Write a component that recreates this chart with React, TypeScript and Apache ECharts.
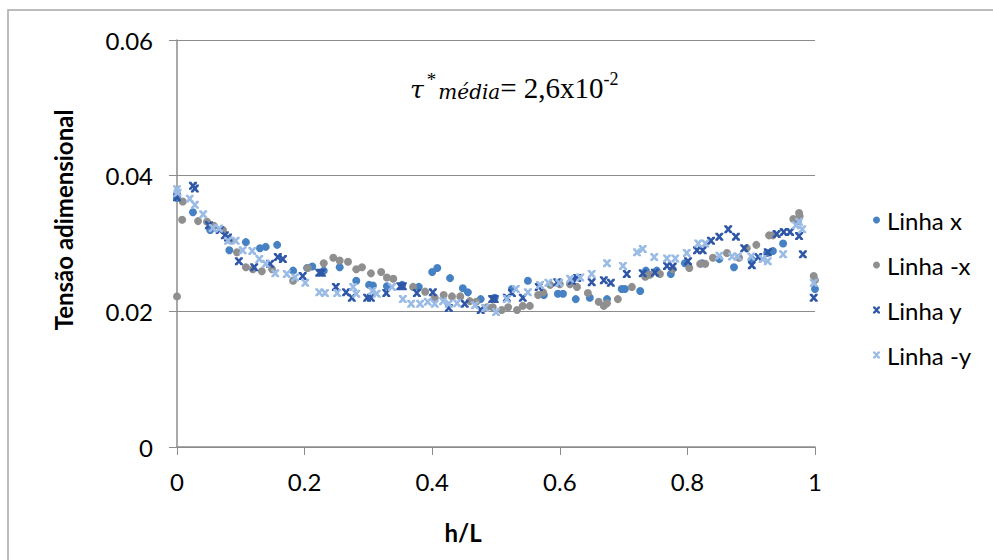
import React, { useEffect, useRef } from "react";
import * as echarts from "echarts";

const xTicks = [0, 0.2, 0.4, 0.6, 0.8, 1];
const yTicks = [0, 0.02, 0.04, 0.06];

const linhaX: [number, number][] = [
  [0.0, 0.0367], [0.025, 0.0346], [0.052, 0.032], [0.082, 0.029], [0.108, 0.0302], [0.13, 0.0293],
  [0.139, 0.0295], [0.157, 0.0298], [0.182, 0.026], [0.204, 0.0264], [0.212, 0.0266], [0.23, 0.026],
  [0.255, 0.0265], [0.281, 0.0245], [0.301, 0.0239], [0.307, 0.0238], [0.329, 0.0237], [0.353, 0.0239],
  [0.379, 0.0236], [0.4, 0.0258], [0.408, 0.0264], [0.428, 0.0249], [0.448, 0.0234], [0.456, 0.0228],
  [0.476, 0.0218], [0.498, 0.022], [0.525, 0.0233], [0.55, 0.0245], [0.575, 0.0224], [0.597, 0.0226],
  [0.605, 0.0226], [0.625, 0.0218], [0.647, 0.022], [0.674, 0.0218], [0.697, 0.0233], [0.702, 0.0233],
  [0.726, 0.023], [0.735, 0.026], [0.752, 0.026], [0.774, 0.0255], [0.796, 0.0271], [0.823, 0.0271],
  [0.85, 0.0277], [0.873, 0.0265], [0.901, 0.0276], [0.925, 0.0286], [0.934, 0.0289], [0.95, 0.03],
  [0.973, 0.0333], [1.0, 0.0233],
];

const linhaMinusX: [number, number][] = [
  [0.0, 0.0222], [0.008, 0.0335], [0.009, 0.0362], [0.033, 0.0333], [0.047, 0.0332], [0.058, 0.0326],
  [0.072, 0.032], [0.083, 0.0305], [0.094, 0.0287], [0.108, 0.0265], [0.119, 0.0262], [0.133, 0.0259],
  [0.149, 0.0262], [0.182, 0.0245], [0.205, 0.0264], [0.23, 0.0271], [0.245, 0.0279], [0.255, 0.0275],
  [0.268, 0.0273], [0.281, 0.0262], [0.29, 0.0265], [0.304, 0.0256], [0.32, 0.0258], [0.329, 0.025],
  [0.339, 0.0248], [0.37, 0.0236], [0.389, 0.0229], [0.404, 0.022], [0.418, 0.0224], [0.431, 0.0222],
  [0.444, 0.0222], [0.459, 0.0215], [0.469, 0.0214], [0.486, 0.0206], [0.495, 0.0206], [0.509, 0.0202],
  [0.519, 0.0206], [0.533, 0.0202], [0.542, 0.0208], [0.553, 0.0208], [0.566, 0.0224], [0.574, 0.0228],
  [0.585, 0.0239], [0.6, 0.024], [0.616, 0.024], [0.627, 0.0236], [0.644, 0.0227], [0.661, 0.0214],
  [0.669, 0.0208], [0.674, 0.0212], [0.691, 0.0218], [0.713, 0.0236], [0.734, 0.0251], [0.741, 0.0254],
  [0.757, 0.0255], [0.777, 0.0262], [0.803, 0.0264], [0.82, 0.027], [0.828, 0.027], [0.84, 0.0279],
  [0.862, 0.0286], [0.881, 0.0279], [0.893, 0.0293], [0.908, 0.0298], [0.928, 0.0312], [0.934, 0.0312],
  [0.966, 0.0336], [0.975, 0.0345], [0.976, 0.034], [0.998, 0.0252], [1.0, 0.0246],
];

const linhaY: [number, number][] = [
  [0.0, 0.0368], [0.025, 0.0385], [0.028, 0.0381], [0.05, 0.0327], [0.067, 0.032], [0.075, 0.0312],
  [0.08, 0.0309], [0.097, 0.0274], [0.121, 0.0265], [0.146, 0.027], [0.158, 0.028], [0.166, 0.0277],
  [0.197, 0.0252], [0.223, 0.0257], [0.227, 0.0257], [0.249, 0.0236], [0.265, 0.0228], [0.274, 0.022],
  [0.298, 0.022], [0.304, 0.022], [0.328, 0.0227], [0.35, 0.0237], [0.354, 0.0237], [0.376, 0.0227],
  [0.401, 0.0228], [0.426, 0.0205], [0.451, 0.0211], [0.476, 0.0202], [0.494, 0.0218], [0.498, 0.0218],
  [0.517, 0.022], [0.525, 0.0227], [0.542, 0.022], [0.567, 0.0236], [0.596, 0.0243], [0.619, 0.0245],
  [0.627, 0.0249], [0.65, 0.0243], [0.669, 0.0246], [0.68, 0.0242], [0.705, 0.0255], [0.73, 0.0256],
  [0.749, 0.0257], [0.768, 0.0267], [0.777, 0.0266], [0.801, 0.0274], [0.815, 0.029], [0.824, 0.029],
  [0.837, 0.0304], [0.85, 0.031], [0.864, 0.0321], [0.876, 0.031], [0.889, 0.0293], [0.901, 0.0268],
  [0.911, 0.028], [0.926, 0.0287], [0.94, 0.0314], [0.951, 0.0317], [0.961, 0.0317], [0.975, 0.0311],
  [0.981, 0.0284], [0.998, 0.022],
];

const linhaMinusY: [number, number][] = [
  [0.0, 0.038], [0.001, 0.0375], [0.02, 0.0366], [0.028, 0.0357], [0.041, 0.0343], [0.056, 0.0323],
  [0.066, 0.0322], [0.08, 0.0304], [0.092, 0.0304], [0.103, 0.029], [0.118, 0.0289], [0.129, 0.0277],
  [0.139, 0.027], [0.154, 0.0256], [0.172, 0.0255], [0.185, 0.025], [0.201, 0.0242], [0.223, 0.0228],
  [0.232, 0.0227], [0.251, 0.0227], [0.276, 0.0236], [0.281, 0.0226], [0.306, 0.023], [0.313, 0.0226],
  [0.337, 0.0236], [0.354, 0.0218], [0.367, 0.0211], [0.381, 0.0211], [0.393, 0.0214], [0.404, 0.0211],
  [0.417, 0.0215], [0.426, 0.0211], [0.439, 0.0212], [0.467, 0.0209], [0.483, 0.0205], [0.5, 0.0199],
  [0.517, 0.0218], [0.531, 0.0233], [0.55, 0.0228], [0.569, 0.0239], [0.582, 0.0242], [0.599, 0.0242],
  [0.616, 0.0248], [0.632, 0.025], [0.65, 0.0255], [0.674, 0.0271], [0.699, 0.0267], [0.721, 0.0287],
  [0.73, 0.0292], [0.748, 0.028], [0.768, 0.0278], [0.781, 0.0278], [0.799, 0.0286], [0.817, 0.03],
  [0.828, 0.03], [0.85, 0.0282], [0.87, 0.0281], [0.879, 0.0281], [0.9, 0.0281], [0.918, 0.0277],
  [0.926, 0.0274], [0.95, 0.0284], [0.97, 0.0327], [0.975, 0.0332], [0.98, 0.0321], [0.998, 0.0242],
];

const seriesNames = ["Linha x", "Linha -x", "Linha y", "Linha -y"];
const colors = ["#4682c3", "#8f8f8f", "#2f57a8", "#9abbe6"];

const X_SYMBOL =
  "path://M0,0 L3,0 L5,2.6 L7,0 L10,0 L10,2 L7,5 L10,8 L10,10 L7,10 L5,7.4 L3,10 L0,10 L0,8 L3,5 L0,2 Z";

export default function App() {
  const ref = useRef<HTMLDivElement>(null);
  useEffect(() => {
    if (!ref.current) return;
    const chart = echarts.init(ref.current, null, { renderer: "svg" });
    const font = "Lato, 'Open Sans', sans-serif";
    const datasets = [linhaX, linhaMinusX, linhaY, linhaMinusY];
    const fmt = (ticks: number[]) => (v: number) => {
      const t = ticks.find((k) => Math.abs(k - v) < 1e-9);
      return t === undefined ? "" : String(t);
    };
    chart.setOption({
      animation: false,
      backgroundColor: "#ffffff",
      grid: { left: 177, right: 178, top: 40, bottom: 113, containLabel: false },
      xAxis: {
        type: "value",
        min: 0,
        max: 1,
        interval: 0.2,
        axisLine: { show: true, lineStyle: { color: "#8c8c8c", width: 1.5 } },
        axisTick: { show: true, inside: false, length: 8, lineStyle: { color: "#8c8c8c" } },
        axisLabel: { fontFamily: font, fontSize: 24, color: "#000", margin: 22, formatter: fmt(xTicks) },
        splitLine: { show: false },
      },
      yAxis: {
        type: "value",
        min: 0,
        max: 0.06,
        interval: 0.02,
        axisLine: { show: true, lineStyle: { color: "#8c8c8c", width: 1.5 } },
        axisTick: { show: true, inside: false, length: 8, lineStyle: { color: "#8c8c8c" } },
        axisLabel: { fontFamily: font, fontSize: 24, color: "#000", margin: 24, formatter: fmt(yTicks) },
        splitLine: { show: true, lineStyle: { color: "#8c8c8c", width: 1.2 } },
      },
      legend: {
        orient: "vertical",
        left: 868,
        top: 203,
        itemGap: 21,
        itemWidth: 7,
        itemHeight: 7,
        textStyle: { fontFamily: font, fontSize: 24, lineHeight: 24, color: "#000", padding: [0, 0, 0, 2] },
        data: seriesNames.map((n, i) => ({
          name: n,
          icon: i < 2 ? "circle" : X_SYMBOL,
        })),
      },
      series: datasets.map((d, i) => ({
        name: seriesNames[i],
        type: "scatter",
        data: d,
        symbol: i < 2 ? "circle" : X_SYMBOL,
        symbolSize: 8,
        itemStyle: { color: colors[i], opacity: 1 },
      })),
      graphic: [
        {
          type: "rect",
          shape: { x: 8, y: 10, width: 1100, height: 700 },
          style: { fill: "none", stroke: "#a6a6a6", lineWidth: 1.5 },
          silent: true,
          z: -1,
        },
        {
          type: "text",
          x: 63,
          y: 220,
          rotation: Math.PI / 2,
          style: {
            text: "Tensão adimensional",
            fontFamily: font,
            fontSize: 24,
            fontWeight: "bold",
            fill: "#000",
            align: "center",
            verticalAlign: "middle",
          },
        },
        {
          type: "text",
          x: 463,
          y: 532,
          style: {
            text: "h/L",
            fontFamily: font,
            fontSize: 24,
            fontWeight: "bold",
            fill: "#000",
            align: "center",
            verticalAlign: "middle",
          },
        },
        {
          type: "text",
          left: 410,
          top: 70,
          style: {
            text: "{t|τ}{s|*}{sub|média}{n|= 2,6x10}{e|-2}",
            rich: {
              t: { fontFamily: "'DejaVu Serif', serif", fontStyle: "italic", fontSize: 25, fill: "#000", verticalAlign: "bottom" },
              s: { fontFamily: "'Liberation Serif', serif", fontSize: 19, fill: "#000", verticalAlign: "top", padding: [0, 2, 10, 3] },
              sub: { fontFamily: "'DejaVu Serif', serif", fontStyle: "italic", fontSize: 20, fill: "#000", verticalAlign: "bottom", padding: [10, 0, 0, 0] },
              n: { fontFamily: "'Liberation Serif', serif", fontSize: 29, fill: "#000", verticalAlign: "bottom" },
              e: { fontFamily: "'Liberation Serif', serif", fontSize: 18, fill: "#000", verticalAlign: "top", padding: [0, 0, 14, 0] },
            },
          },
        },
      ],
    });
    return () => chart.dispose();
  }, []);
  return (
    <div
      ref={ref}
      style={{ position: "fixed", left: 0, top: 0, width: 993, height: 560 }}
    />
  );
}
